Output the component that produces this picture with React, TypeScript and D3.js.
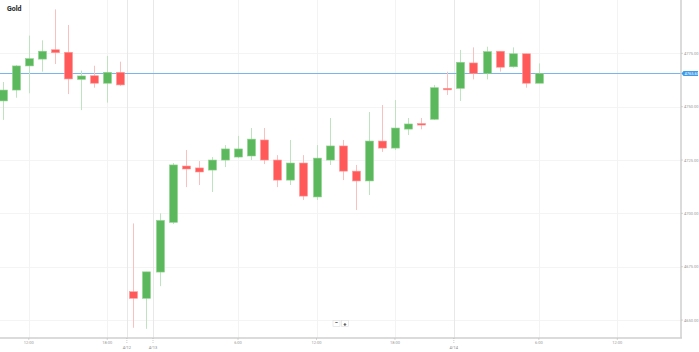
import React from "react";
import * as d3 from "d3";

// hourly candles, index 0..41 (weekend gap collapsed)
const opens = [4752.7, 4757.8, 4769.1, 4772.3, 4776.7, 4775.5, 4762.8, 4764.5, 4761.0, 4766.1,
  4663.3, 4660.2, 4672.5, 4695.8, 4722.2, 4721.3, 4720.3, 4725.0, 4726.4, 4726.9,
  4734.4, 4725.0, 4715.6, 4723.6, 4707.7, 4725.0, 4731.6, 4719.8, 4715.2, 4733.9,
  4730.6, 4739.5, 4742.1, 4744.1, 4758.6, 4758.6, 4770.5, 4765.6, 4776.0, 4768.7,
  4774.8, 4761.0];
const highs = [4761.6, 4769.5, 4783.3, 4781.1, 4795.6, 4788.3, 4766.9, 4769.2, 4773.8, 4771.1,
  4695.3, 4672.6, 4700.0, 4723.6, 4729.7, 4724.5, 4726.4, 4732.0, 4736.3, 4740.0,
  4740.0, 4727.3, 4734.4, 4727.3, 4732.0, 4744.7, 4734.4, 4722.7, 4747.5, 4750.8,
  4753.1, 4744.7, 4744.7, 4760.2, 4766.4, 4776.6, 4777.8, 4778.1, 4776.0, 4777.8,
  4774.8, 4770.3];
const lows = [4743.8, 4754.2, 4756.3, 4766.4, 4770.0, 4755.9, 4748.4, 4758.9, 4751.9, 4759.7,
  4646.4, 4645.9, 4665.9, 4695.0, 4712.3, 4713.3, 4710.0, 4721.7, 4725.9, 4725.0,
  4723.1, 4712.3, 4713.3, 4706.3, 4706.3, 4722.7, 4715.6, 4701.6, 4708.6, 4728.8,
  4729.7, 4736.7, 4739.4, 4743.8, 4755.5, 4752.7, 4762.8, 4762.8, 4766.4, 4768.3,
  4758.9, 4761.0];
const closes = [4757.8, 4769.1, 4772.5, 4776.0, 4775.3, 4763.0, 4764.4, 4761.0, 4766.1, 4760.2,
  4660.2, 4672.6, 4696.7, 4722.7, 4720.8, 4719.4, 4725.0, 4730.2, 4730.2, 4734.8,
  4725.0, 4715.6, 4723.6, 4708.1, 4725.9, 4731.6, 4719.8, 4715.2, 4733.9, 4730.6,
  4740.0, 4741.9, 4741.4, 4758.9, 4758.0, 4770.8, 4765.6, 4775.8, 4768.5, 4774.8,
  4761.0, 4765.6];

const priceTicks = [4650, 4675, 4700, 4725, 4750, 4775];
const timeTickIdx = [2, 8, 18, 24, 30, 41, 47];
const timeTickLabels = ["12:00", "18:00", "6:00", "12:00", "18:00", "6:00", "12:00"];
const dateTickIdx = [9.5, 11.5, 34.5];
const dateTickLabels = ["4/12", "4/13", "4/14"];
const lastPrice = 4765.6;

const W = 699;
const H = 352;
const plotRight = 681;
const plotBottom = 338;

const UP = "#5cb85c";
const UP_EDGE = "#8fd28f";
const UP_WICK = "#bfe3bf";
const DOWN = "#ff5959";
const DOWN_EDGE = "#ff9a9a";
const DOWN_WICK = "#f9c0c0";

export default function App() {
  const x = d3.scaleLinear().domain([-0.2, 51.87]).range([0, plotRight]);
  const y = d3.scaleLinear().domain([4641.6, 4800]).range([plotBottom, 0]);
  const bodyW = 8;
  const font = "Roboto, Arial, sans-serif";
  const lastY = Math.round(y(lastPrice)) + 0.5;

  return (
    <svg width={W} height={H} style={{ position: "absolute", left: 0, top: 0, background: "#fff" }}>
      {/* horizontal grid */}
      {priceTicks.map((p) => (
        <line key={"h" + p} x1={0} x2={plotRight} y1={Math.round(y(p)) + 0.5} y2={Math.round(y(p)) + 0.5} stroke="#f4f4f4" strokeWidth={1} />
      ))}
      {/* vertical grid */}
      {timeTickIdx.map((i, k) => (
        <line key={"v" + k} x1={Math.round(x(i)) + 0.5} x2={Math.round(x(i)) + 0.5} y1={0} y2={plotBottom} stroke="#f3f3f3" strokeWidth={1} />
      ))}
      {dateTickIdx.map((i, k) => (
        <line key={"d" + k} x1={Math.round(x(i)) + 0.5} x2={Math.round(x(i)) + 0.5} y1={0} y2={plotBottom} stroke="#e8e8e8" strokeWidth={1} />
      ))}

      {/* last price line */}
      <line x1={0} x2={plotRight} y1={lastY} y2={lastY} stroke="#78b6ee" strokeWidth={1} />

      {/* candles */}
      {opens.map((o, i) => {
        const c = closes[i];
        const up = c >= o;
        const cx = Math.round(x(i)) + 0.5;
        const top = y(Math.max(o, c));
        const h = Math.max(1.5, y(Math.min(o, c)) - top);
        return (
          <g key={"c" + i}>
            <line x1={cx} x2={cx} y1={y(highs[i])} y2={y(lows[i])} stroke={up ? UP_WICK : DOWN_WICK} strokeWidth={1} />
            <rect
              x={cx - bodyW / 2}
              y={top}
              width={bodyW}
              height={h}
              fill={up ? UP : DOWN}
              stroke={up ? UP_EDGE : DOWN_EDGE}
              strokeWidth={0.6}
            />
          </g>
        );
      })}

      {/* axes */}
      <line x1={0} x2={plotRight + 1} y1={plotBottom} y2={plotBottom} stroke="#cfcfcf" strokeWidth={1.5} />
      <line x1={plotRight} x2={plotRight} y1={0} y2={plotBottom} stroke="#cfcfcf" strokeWidth={1.5} />

      {/* y labels */}
      {priceTicks.map((p) => (
        <g key={"yl" + p}>
          <line x1={plotRight} x2={plotRight + 2} y1={y(p)} y2={y(p)} stroke="#bbb" strokeWidth={0.6} />
          <text x={plotRight + 3} y={y(p) + 1.5} fontSize={4} fill="#999" fontFamily={font}>
            {p.toFixed(2)}
          </text>
        </g>
      ))}
      {/* last price tag */}
      <g>
        <path
          d={`M${plotRight + 0.5},${lastY} L${plotRight + 2.5},${lastY - 2.6} H${W - 1} V${lastY + 2.6} H${plotRight + 2.5} Z`}
          fill="#3d9be9"
        />
        <text x={plotRight + 3.5} y={lastY + 1.5} fontSize={4} fill="#fff" fontFamily={font}>
          {lastPrice.toFixed(2)}
        </text>
      </g>

      {/* x labels */}
      {timeTickIdx.map((i, k) => (
        <g key={"xl" + k}>
          <line x1={x(i)} x2={x(i)} y1={plotBottom} y2={plotBottom + 2} stroke="#bbb" strokeWidth={0.6} />
          <text x={x(i)} y={plotBottom + 6} fontSize={4} fill="#999" textAnchor="middle" fontFamily={font}>
            {timeTickLabels[k]}
          </text>
        </g>
      ))}
      {dateTickIdx.map((i, k) => (
        <g key={"dl" + k}>
          <line x1={x(i)} x2={x(i)} y1={plotBottom} y2={plotBottom + 5} stroke="#aaa" strokeWidth={0.6} strokeDasharray="1,1" />
          <text x={x(i)} y={plotBottom + 11} fontSize={4} fill="#888" textAnchor="middle" fontFamily={font}>
            {dateTickLabels[k]}
          </text>
        </g>
      ))}

      {/* zoom buttons */}
      <g fontFamily={font}>
        <rect x={333} y={320.5} width={7} height={6} fill="#fff" stroke="#ddd" strokeWidth={0.6} />
        <text x={336.5} y={325.3} fontSize={6} fill="#333" textAnchor="middle" fontWeight="bold">−</text>
        <rect x={341.5} y={320.5} width={7} height={6} fill="#fff" stroke="#ddd" strokeWidth={0.6} />
        <text x={345} y={325.5} fontSize={6} fill="#333" textAnchor="middle" fontWeight="bold">+</text>
      </g>

      {/* title */}
      <text x={7} y={11} fontSize={7} fontWeight="bold" fill="#222" fontFamily={font}>
        Gold
      </text>
    </svg>
  );
}
